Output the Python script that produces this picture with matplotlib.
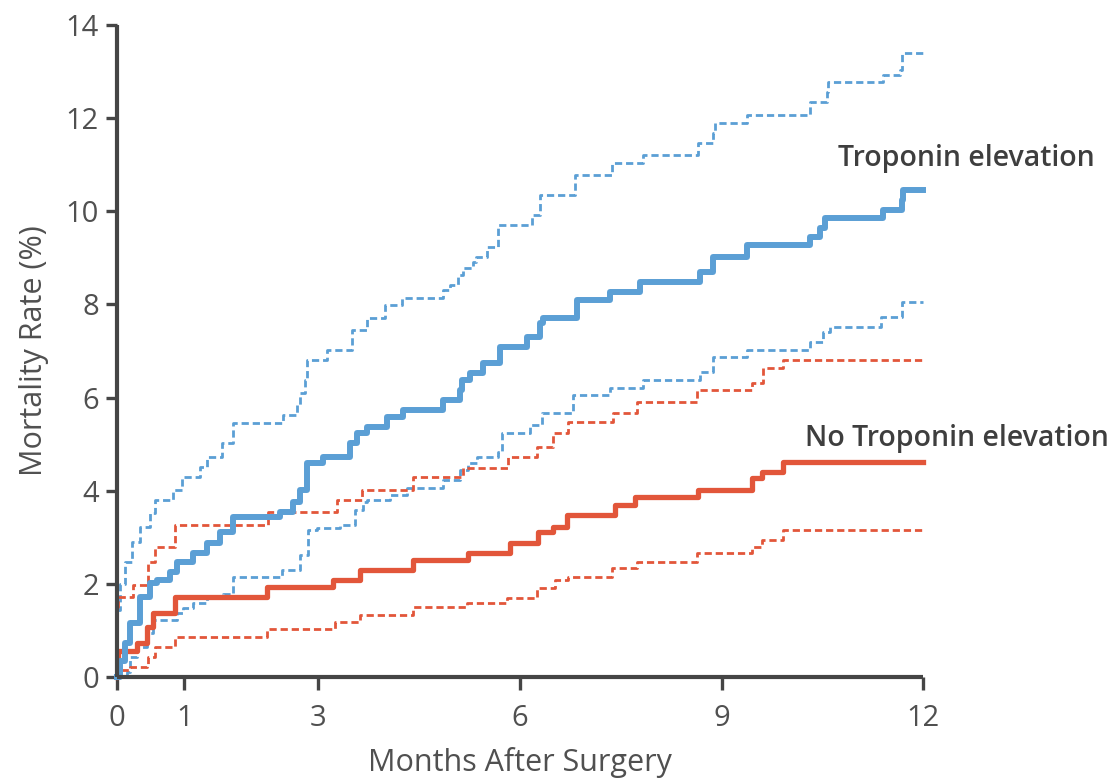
import matplotlib
matplotlib.use("Agg")
import matplotlib.pyplot as plt

# months after surgery / mortality rate (%)
trop_t = [0, 0.04, 0.12, 0.19, 0.34, 0.49, 0.6, 0.79, 0.89, 1.13, 1.34, 1.53, 1.73, 2.43,
          2.62, 2.72, 2.83, 3.07, 3.47, 3.57, 3.72, 4.02, 4.26, 4.85, 5.1, 5.13, 5.25, 5.45,
          5.7, 6.1, 6.3, 6.34, 6.85, 7.34, 7.78, 8.68, 8.87, 9.38, 10.31, 10.46, 10.54,
          11.4, 11.68, 11.7, 12]
trop_v = [0, 0.35, 0.73, 1.16, 1.72, 2.02, 2.08, 2.25, 2.47, 2.66, 2.88, 3.11, 3.44, 3.54,
          3.76, 4.01, 4.59, 4.72, 5.02, 5.24, 5.37, 5.58, 5.73, 5.95, 6.16, 6.38, 6.53,
          6.74, 7.09, 7.30, 7.60, 7.71, 8.10, 8.27, 8.48, 8.70, 9.02, 9.28, 9.45, 9.64,
          9.86, 10.03, 10.24, 10.46, 10.46]

trop_hi_t = [0, 0.05, 0.12, 0.22, 0.34, 0.49, 0.57, 0.83, 0.97, 1.24, 1.34, 1.56, 1.73,
             2.47, 2.68, 2.72, 2.8, 2.83, 3.13, 3.5, 3.72, 3.99, 4.24, 4.85, 4.96, 5.07,
             5.15, 5.3, 5.34, 5.51, 5.67, 6.18, 6.3, 6.82, 7.37, 7.83, 8.65, 8.87, 8.9,
             9.38, 10.31, 10.57, 10.58, 11.4, 11.65, 11.68, 12]
trop_hi_v = [1.44, 2.0, 2.47, 2.9, 3.22, 3.52, 3.80, 4.01, 4.29, 4.51, 4.72, 5.02, 5.45,
             5.63, 5.84, 6.10, 6.38, 6.81, 7.02, 7.45, 7.71, 7.99, 8.13, 8.31, 8.42, 8.63,
             8.78, 8.91, 9.02, 9.23, 9.70, 9.92, 10.35, 10.78, 11.04, 11.2, 11.47, 11.68,
             11.9, 12.07, 12.35, 12.56, 12.78, 12.93, 13.03, 13.4, 13.4]

trop_lo_t = [0, 0.15, 0.19, 0.3, 0.45, 0.54, 0.89, 0.98, 1.13, 1.34, 1.58, 1.73, 2.46,
             2.72, 2.84, 2.98, 3.32, 3.54, 3.66, 3.72, 4.06, 4.32, 4.85, 5.1, 5.22, 5.36,
             5.67, 5.73, 6.15, 6.32, 6.79, 7.34, 7.83, 8.68, 8.87, 9.38, 10.31, 10.51,
             10.61, 11.38, 11.68, 12]
trop_lo_v = [0, 0.1, 0.43, 0.65, 0.94, 1.22, 1.37, 1.48, 1.58, 1.72, 1.79, 2.15, 2.30,
             2.62, 3.16, 3.2, 3.26, 3.59, 3.76, 3.8, 3.9, 4.06, 4.23, 4.44, 4.59, 4.72,
             4.83, 5.24, 5.41, 5.67, 6.06, 6.21, 6.38, 6.55, 6.87, 7.02, 7.19, 7.41, 7.52,
             7.73, 8.05, 8.05]

notrop_t = [0, 0.01, 0.3, 0.45, 0.54, 0.86, 2.23, 3.21, 3.62, 4.4, 5.22, 5.85, 6.27, 6.49,
            6.7, 7.41, 7.71, 8.65, 9.45, 9.6, 9.91, 12]
notrop_v = [0, 0.55, 0.73, 1.07, 1.37, 1.72, 1.93, 2.08, 2.30, 2.51, 2.66, 2.88, 3.11,
            3.22, 3.48, 3.69, 3.87, 4.01, 4.27, 4.40, 4.62, 4.62]

notrop_hi_t = [0, 0.02, 0.24, 0.46, 0.57, 0.86, 2.25, 3.27, 3.65, 4.4, 5.15, 5.82, 6.25,
               6.49, 6.71, 7.38, 7.74, 8.63, 9.45, 9.61, 9.91, 12]
notrop_hi_v = [1.5, 1.72, 1.97, 2.47, 2.79, 3.26, 3.54, 3.80, 4.01, 4.29, 4.48, 4.72, 4.94,
               5.24, 5.47, 5.66, 5.9, 6.16, 6.31, 6.63, 6.81, 6.81]

notrop_lo_t = [0, 0.01, 0.19, 0.45, 0.46, 0.57, 0.86, 2.23, 3.24, 3.62, 4.4, 5.21, 5.8,
               6.25, 6.52, 6.71, 7.37, 7.74, 8.63, 9.45, 9.6, 9.91, 12]
notrop_lo_v = [0, 0.15, 0.22, 0.26, 0.43, 0.65, 0.86, 1.04, 1.18, 1.33, 1.50, 1.58, 1.69,
               1.91, 2.08, 2.15, 2.34, 2.47, 2.66, 2.79, 2.94, 3.16, 3.16]

x_ticks = [0, 1, 3, 6, 9, 12]
y_ticks = [0, 2, 4, 6, 8, 10, 12, 14]

blue = "#5b9fd5"
red = "#e2563a"
axis_col = "#454545"
text_col = "#505050"

plt.rcParams["font.family"] = ["Open Sans", "DejaVu Sans"]

fig = plt.figure(figsize=(11.14, 7.81), dpi=100)
ax = fig.add_axes([0.105, 0.1332, 0.7236, 0.8348])

dash = (0, (2.6, 1.4))
ax.step(trop_hi_t, trop_hi_v, where="post", color=blue, lw=2.0, linestyle=dash, clip_on=False)
ax.step(trop_lo_t, trop_lo_v, where="post", color=blue, lw=2.0, linestyle=dash, clip_on=False)
ax.step(notrop_hi_t, notrop_hi_v, where="post", color=red, lw=2.0, linestyle=dash, clip_on=False)
ax.step(notrop_lo_t, notrop_lo_v, where="post", color=red, lw=2.0, linestyle=dash, clip_on=False)
ax.step(notrop_t, notrop_v, where="post", color=red, lw=3.8, clip_on=False)
ax.step(trop_t, trop_v, where="post", color=blue, lw=4.3, clip_on=False)

ax.set_xlim(0, 12)
ax.set_ylim(0, 14)
ax.set_xticks(x_ticks)
ax.set_yticks(y_ticks)

for s in ["top", "right"]:
    ax.spines[s].set_visible(False)
for s in ["left", "bottom"]:
    ax.spines[s].set_color(axis_col)
    ax.spines[s].set_linewidth(3.0)
    ax.spines[s].set_capstyle("butt")

ax.tick_params(axis="x", direction="out", length=9.5, width=2.4, color=axis_col,
               pad=10, labelsize=21, labelcolor=text_col)
ax.tick_params(axis="y", direction="out", length=8, width=2.4, color=axis_col,
               pad=5, labelsize=21, labelcolor=text_col)

ax.set_xlabel("Months After Surgery", fontsize=22, color=text_col, labelpad=10)
ax.set_ylabel("Mortality Rate (%)", fontsize=22, color=text_col, labelpad=12)

ax.text(10.73, 11.14, "Troponin elevation", fontsize=20.5, fontweight="semibold",
        color="#3e3e3e", va="center", ha="left", clip_on=False)
ax.text(10.24, 5.13, "No Troponin elevation", fontsize=20.5, fontweight="semibold",
        color="#3e3e3e", va="center", ha="left", clip_on=False)

fig.savefig("out.png", dpi=100, facecolor="white")
